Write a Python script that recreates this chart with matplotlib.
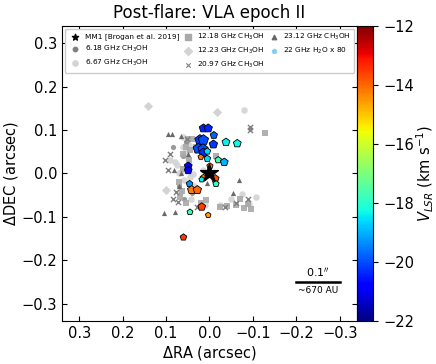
import numpy as np
import matplotlib
matplotlib.use("Agg")
import matplotlib.pyplot as plt

# offsets (arcsec)
# 6.18 GHz CH3OH
ra_618 = [0.055, 0.062, 0.048, 0.040, 0.070, 0.058, 0.085]
dec_618 = [0.072, 0.040, 0.020, -0.045, -0.030, -0.060, 0.060]
# 6.67 GHz CH3OH
ra_667 = [0.080, 0.075, 0.060, 0.055, 0.050, 0.065, 0.045, 0.038, 0.015, 0.043,
          0.010, -0.024, -0.074, -0.107, -0.079, 0.070, 0.058, 0.052, -0.050, -0.090,
          0.062, 0.047, 0.090, 0.068, 0.035]
dec_667 = [0.026, 0.020, 0.060, 0.050, 0.035, 0.004, -0.009, -0.002, 0.009, -0.060,
           -0.072, -0.072, -0.048, -0.054, 0.145, 0.000, -0.015, 0.075, -0.060, -0.070,
           0.085, 0.065, 0.030, -0.045, -0.030]
# 12.18 GHz CH3OH
ra_1218 = [0.050, 0.040, 0.055, 0.060, 0.048, 0.063, 0.068, 0.055, 0.020, 0.008,
           -0.025, -0.040, -0.060, -0.080, -0.089, -0.095, -0.016, -0.128, 0.030,
           0.045, 0.070, 0.060, -0.070]
dec_1218 = [0.080, 0.080, 0.060, 0.045, 0.030, -0.040, -0.055, -0.068, -0.068, -0.062,
            -0.078, -0.075, -0.072, -0.080, -0.070, -0.083, 0.040, 0.094, 0.060,
            0.055, -0.020, 0.010, -0.060]
# 12.23 GHz CH3OH
ra_1223 = [0.141, -0.018, 0.100]
dec_1223 = [0.155, 0.142, -0.037]
# 20.97 GHz CH3OH
ra_2097 = [0.092, 0.102, 0.095, 0.051, 0.077, 0.085, 0.072, 0.028, -0.089, -0.036,
           -0.093, -0.093, -0.060]
dec_2097 = [0.045, 0.031, 0.009, 0.080, -0.042, -0.058, -0.066, -0.077, -0.058, -0.077,
            0.107, 0.099, -0.068]
# 23.12 GHz CH3OH
ra_2312 = [0.095, 0.086, 0.066, 0.049, 0.082, 0.066, -0.068, 0.070, -0.055, 0.104,
           0.079, 0.006]
dec_2312 = [0.090, 0.090, 0.086, 0.045, 0.009, 0.000, -0.014, -0.029, -0.046, -0.091,
            -0.088, -0.021]
# 22 GHz H2O, colour = V_LSR, size = flux
ra_h2o = [0.014, 0.003, -0.010, 0.022, 0.014, -0.009, -0.038, -0.064, 0.026, 0.015,
          0.014, 0.005, 0.020, 0.005, -0.020, -0.034, -0.001, 0.049, 0.049, 0.014,
          0.018, -0.013, -0.015, 0.046, 0.041, 0.028, 0.018, 0.045, 0.003, 0.060]
dec_h2o = [0.104, 0.104, 0.088, 0.077, 0.077, 0.067, 0.072, 0.069, 0.057, 0.056,
           0.048, 0.051, 0.038, 0.034, 0.031, 0.026, 0.017, 0.017, 0.007, -0.010,
           -0.014, -0.012, -0.024, -0.024, -0.038, -0.038, -0.077, -0.089, -0.096, -0.147]
v_h2o = [-20.4, -20.4, -19.8, -20.2, -20.0, -20.2, -18.4, -18.3, -20.0, -20.0,
         -20.3, -18.6, -14.2, -18.6, -17.7, -19.0, -14.3, -20.7, -20.9, -14.3,
         -18.4, -13.7, -17.9, -19.3, -14.2, -14.0, -13.6, -17.8, -14.6, -13.5]
s_h2o = [40, 40, 30, 60, 60, 40, 35, 35, 60, 60,
         45, 25, 18, 25, 25, 35, 22, 35, 35, 25,
         18, 35, 22, 25, 40, 40, 35, 20, 18, 25]

fig = plt.figure(figsize=(4.36, 3.64), dpi=100)
ax = fig.add_axes([0.142, 0.118, 0.677, 0.811])
cax = fig.add_axes([0.819, 0.118, 0.037, 0.811])

ax.scatter(ra_667, dec_667, s=22, c='lightgray', marker='o', alpha=0.9, lw=0, zorder=1)
ax.scatter(ra_618, dec_618, s=14, c='gray', marker='o', alpha=0.8, lw=0, zorder=2)
ax.scatter(ra_1218, dec_1218, s=20, c='darkgray', marker='s', alpha=0.9, lw=0, zorder=2)
ax.scatter(ra_1223, dec_1223, s=22, c='lightgray', marker='D', lw=0, zorder=2)
ax.scatter(ra_2097, dec_2097, s=14, c='gray', marker='x', lw=1, zorder=2)
ax.scatter(ra_2312, dec_2312, s=14, c='dimgray', marker='^', lw=0, zorder=2)
sc = ax.scatter(ra_h2o, dec_h2o, s=s_h2o, c=v_h2o, cmap='jet', vmin=-22, vmax=-12,
                marker='p', edgecolors='k', linewidths=0.6, zorder=4)
ax.scatter([0], [0], s=180, c='k', marker='*', zorder=5)

# legend proxies
hs = [
    ax.scatter([], [], s=22, c='k', marker='*', label='MM1 [Brogan et al. 2019]'),
    ax.scatter([], [], s=10, c='gray', marker='o', label='6.18 GHz CH$_3$OH'),
    ax.scatter([], [], s=14, c='lightgray', marker='o', label='6.67 GHz CH$_3$OH'),
    ax.scatter([], [], s=14, c='darkgray', marker='s', label='12.18 GHz CH$_3$OH'),
    ax.scatter([], [], s=16, c='lightgray', marker='D', label='12.23 GHz CH$_3$OH'),
    ax.scatter([], [], s=10, c='gray', marker='x', lw=0.8, label='20.97 GHz CH$_3$OH'),
    ax.scatter([], [], s=10, c='dimgray', marker='^', label='23.12 GHz CH$_3$OH'),
    ax.scatter([], [], s=10, c='skyblue', marker='p', label='22 GHz H$_2$O x 80'),
]
ax.legend(handles=hs, ncol=3, fontsize=5.3,
          loc='upper left', bbox_to_anchor=(0.0, 1.0, 1.0, 0.0), mode='expand',
          handletextpad=0.3, columnspacing=0.5, framealpha=1, borderaxespad=0.4)

# scale bar
ax.plot([-0.2, -0.3], [-0.25, -0.25], color='k', lw=1.8)
ax.text(-0.25, -0.242, '0.1$^{\\prime\\prime}$', ha='center', va='bottom', fontsize=8)
ax.text(-0.25, -0.26, '~670 AU', ha='center', va='top', fontsize=6.5)

ax.set_xlim(0.34, -0.34)
ax.set_ylim(-0.34, 0.34)
ax.set_xticks([0.3, 0.2, 0.1, 0.0, -0.1, -0.2, -0.3])
ax.set_yticks([-0.3, -0.2, -0.1, 0.0, 0.1, 0.2, 0.3])
ax.tick_params(direction='in', top=True, right=True, labelsize=10.5)
ax.set_xlabel(r'$\Delta$RA (arcsec)', fontsize=10.5, labelpad=2)
ax.set_ylabel(r'$\Delta$DEC (arcsec)', fontsize=10.5, labelpad=1)
ax.set_title('Post-flare: VLA epoch II', fontsize=12)

cb = fig.colorbar(sc, cax=cax)
cb.set_ticks([-22, -20, -18, -16, -14, -12])
cb.ax.tick_params(labelsize=10.5)
cb.set_label(r'$V_{LSR}$ (km s$^{-1}$)', fontsize=10.5, labelpad=1)

plt.savefig('out.png', dpi=100)
